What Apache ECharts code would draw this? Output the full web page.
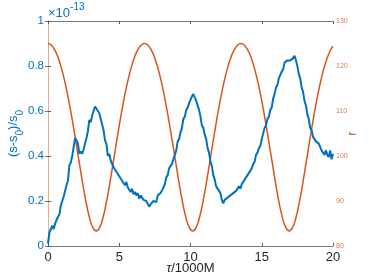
<!DOCTYPE html>
<html><head><meta charset="utf-8">
<script src="https://cdn.jsdelivr.net/npm/echarts@6/dist/echarts.min.js"></script>
<style>html,body{margin:0;padding:0;background:#fff}#c{width:369px;height:277px}</style>
</head><body><div id="c"></div>
<script>
// (s-s0)/s0 in units of 1e-13, sampled every 0.1 (tau/1000M) from 0 to 20
const sStep = 0.1;
const sValues = [
0.01,0.06,0.065,0.09,0.075,0.10,0.095,0.13,0.14,0.18,
0.175,0.22,0.215,0.27,0.29,0.36,0.37,0.40,0.405,0.48,
0.47,0.455,0.41,0.42,0.41,0.43,0.425,0.48,0.51,0.56,
0.55,0.58,0.58,0.62,0.61,0.605,0.59,0.585,0.54,0.515,
0.47,0.455,0.40,0.41,0.38,0.375,0.35,0.355,0.33,0.335,
0.31,0.315,0.29,0.295,0.27,0.285,0.26,0.265,0.24,0.255,
0.23,0.24,0.225,0.235,0.21,0.225,0.225,0.205,0.205,0.20,
0.205,0.175,0.185,0.18,0.20,0.205,0.195,0.225,0.22,0.235,
0.235,0.26,0.275,0.305,0.315,0.345,0.345,0.365,0.365,0.405,
0.425,0.465,0.475,0.505,0.525,0.565,0.575,0.605,0.615,0.635,
0.635,0.665,0.675,0.675,0.645,0.645,0.605,0.575,0.535,0.525,
0.495,0.475,0.435,0.415,0.375,0.355,0.315,0.295,0.265,0.265,
0.245,0.235,0.205,0.19,0.205,0.205,0.215,0.215,0.225,0.225,
0.235,0.235,0.245,0.245,0.265,0.255,0.275,0.275,0.295,0.295,
0.315,0.315,0.335,0.345,0.365,0.375,0.405,0.415,0.435,0.445,
0.475,0.475,0.525,0.535,0.565,0.575,0.605,0.615,0.655,0.675,
0.705,0.715,0.745,0.745,0.775,0.785,0.815,0.815,0.825,0.825,
0.825,0.825,0.835,0.845,0.825,0.80,0.765,0.745,0.705,0.685,
0.645,0.625,0.585,0.565,0.525,0.515,0.485,0.485,0.465,0.465,
0.455,0.455,0.425,0.425,0.405,0.425,0.405,0.395,0.425,0.385,
0.41
];
// orbital radius r
const rTau = [
0,0.242,0.484,0.725,0.967,1.209,1.451,1.693,1.934,2.176,2.418,2.660,2.901,3.143,3.385,
3.627,3.869,4.110,4.352,4.594,4.836,5.077,5.319,5.561,5.803,6.045,6.286,6.528,6.770,
7.012,7.254,7.495,7.737,7.979,8.221,8.463,8.704,8.946,9.188,9.430,9.671,9.913,10.155,
10.397,10.639,10.880,11.122,11.364,11.606,11.847,12.089,12.331,12.573,12.815,13.056,13.298,13.540,
13.782,14.024,14.265,14.507,14.749,14.991,15.233,15.474,15.716,15.958,16.200,16.441,16.683,16.925,
17.167,17.409,17.650,17.892,18.134,18.376,18.618,18.859,19.101,19.343,19.585,19.826,20.0
];
const rValues = [
124.98,124.62,123.53,121.73,119.25,116.12,112.41,108.22,103.64,98.89,94.21,89.93,86.43,84.13,83.32,
84.13,86.43,89.93,94.21,98.89,103.64,108.22,112.41,116.12,119.25,121.73,123.53,124.62,124.98,
124.62,123.53,121.73,119.25,116.12,112.41,108.22,103.64,98.89,94.21,89.93,86.43,84.13,83.32,
84.13,86.43,89.93,94.21,98.89,103.64,108.22,112.41,116.12,119.25,121.73,123.53,124.62,124.98,
124.62,123.53,121.73,119.25,116.12,112.41,108.22,103.64,98.89,94.21,89.93,86.43,84.13,83.32,
84.13,86.43,89.93,94.21,98.89,103.64,108.22,112.41,116.12,119.25,121.73,123.53,124.4
];
const xTicks = [0,5,10,15,20];
const leftTicks = [0,0.2,0.4,0.6,0.8,1];
const rightTicks = [80,90,100,110,120,130];

const BLUE = '#0072BD', ORANGE = '#D95319';
const sData = sValues.map((v,i)=>[+(i*sStep).toFixed(1), v]);
const rData = rTau.map((t,i)=>[t, rValues[i]]);
const FONT = 'Liberation Sans';

const chart = echarts.init(document.getElementById('c'), null, {renderer:'canvas'});
chart.setOption({
  animation:false,
  backgroundColor:'#fff',
  grid:{left:48,right:36,top:21,bottom:31,show:false,containLabel:false,outerBoundsMode:'none'},
  xAxis:[{
    type:'value',min:xTicks[0],max:xTicks[xTicks.length-1],interval:5,
    position:'bottom',
    axisLine:{show:true,lineStyle:{color:'#7a7a7a',width:1}},
    axisTick:{show:true,inside:true,length:3,lineStyle:{color:'#555'}},
    axisLabel:{color:'#262626',fontSize:13,fontFamily:FONT,margin:5},
    splitLine:{show:false},
    name:'{i|τ}/1000M',nameLocation:'middle',nameGap:16,nameMoveOverlap:false,
    nameTextStyle:{color:'#262626',fontSize:13,fontFamily:FONT,rich:{i:{fontStyle:'italic',fontSize:13,fontFamily:FONT,color:'#262626'}}}
  },{
    type:'value',min:0,max:20,interval:5,position:'top',
    axisLine:{show:true,lineStyle:{color:'#7a7a7a',width:1}},
    axisTick:{show:true,inside:true,length:3,lineStyle:{color:'#555'}},
    axisLabel:{show:false},splitLine:{show:false}
  }],
  yAxis:[{
    type:'value',min:0,max:1,interval:0.2,position:'left',
    axisLine:{show:true,lineStyle:{color:'#6aaee0',width:1}},
    axisTick:{show:true,inside:true,length:3,lineStyle:{color:BLUE}},
    axisLabel:{color:BLUE,fontSize:11.5,fontFamily:FONT,margin:4,
      formatter:v=>(Math.round(v*10)/10).toString()},
    splitLine:{show:false},
    name:'{m|(s-s}{s|0}{m|)/s}{s|0}',nameLocation:'middle',nameRotate:90,nameGap:23,nameMoveOverlap:false,
    nameTextStyle:{color:BLUE,fontSize:13,fontFamily:FONT,
      rich:{m:{fontSize:13,fontFamily:FONT,color:BLUE,lineHeight:18,verticalAlign:'top'},
            s:{fontSize:10,fontFamily:FONT,color:BLUE,lineHeight:18,verticalAlign:'bottom'}}}
  },{
    type:'value',min:80,max:130,interval:10,position:'right',
    axisLine:{show:true,lineStyle:{color:'#ecaa8a',width:1}},
    axisTick:{show:true,inside:true,length:3,lineStyle:{color:ORANGE}},
    axisLabel:{color:'#e07a4a',fontSize:7,fontFamily:FONT,margin:3},
    splitLine:{show:false},
    name:'r',nameLocation:'middle',nameRotate:90,nameGap:13,nameMoveOverlap:false,
    nameTextStyle:{color:ORANGE,fontSize:13,fontFamily:FONT}
  }],
  graphic:[{
    type:'text',left:48,top:2,
    style:{text:'{a|×10}{b|-13}',fill:BLUE,
      rich:{a:{fontSize:13,fontFamily:FONT,fill:BLUE,verticalAlign:'bottom',lineHeight:18},
            b:{fontSize:10,fontFamily:FONT,fill:BLUE,verticalAlign:'top',lineHeight:18}}}
  }],
  series:[{
    type:'line',xAxisIndex:0,yAxisIndex:0,data:sData,showSymbol:false,
    lineStyle:{color:BLUE,width:2},itemStyle:{color:BLUE},z:3
  },{
    type:'line',xAxisIndex:0,yAxisIndex:1,data:rData,showSymbol:false,smooth:true,
    lineStyle:{color:ORANGE,width:1.5},itemStyle:{color:ORANGE},z:2
  }]
});
</script></body></html>
